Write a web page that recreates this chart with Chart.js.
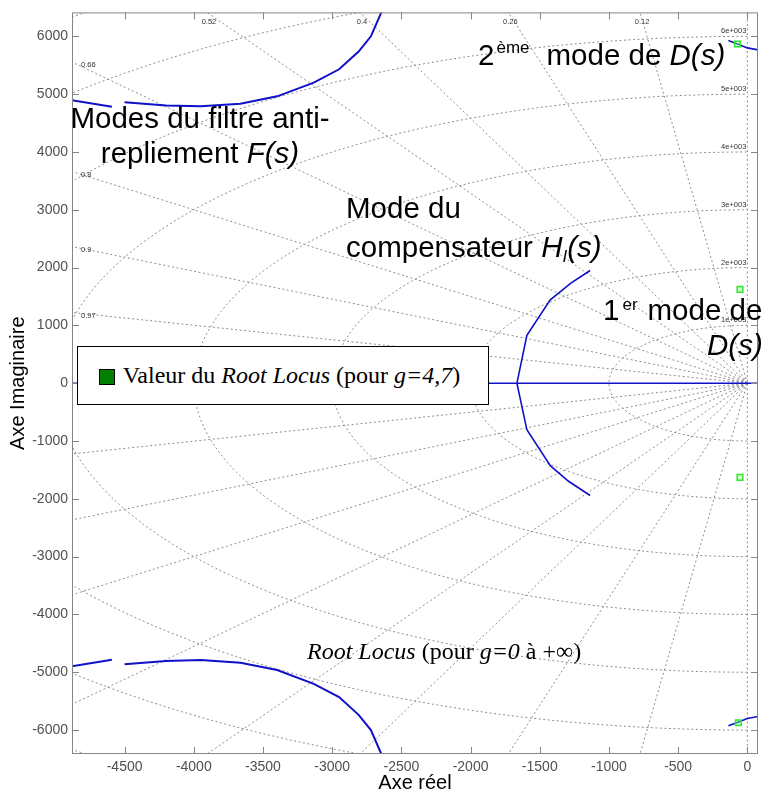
<!DOCTYPE html>
<html>
<head>
<meta charset="utf-8">
<script src="https://cdn.jsdelivr.net/npm/chart.js@4.4.0/dist/chart.umd.min.js"></script>
<style>
html, body { margin: 0; padding: 0; background: #fff; overflow: hidden; }
#wrap { position: relative; width: 764px; height: 796px; overflow: hidden; }
#wrap canvas { position: absolute; left: 0; top: 0; }
.note { position: absolute; white-space: nowrap; color: #000; line-height: 1; }
.sans { font-family: "Liberation Sans", Arial, sans-serif; font-size: 29.5px; }
.serif { font-family: "Liberation Serif", "Times New Roman", serif; font-size: 24px; }
.up { font-size: 17px; position: relative; }
.dn { font-size: 17px; position: relative; }
#legend { position: absolute; left: 77px; top: 346px; width: 410px; height: 57px; border: 1px solid #000; background: #fff; }
#swatch { position: absolute; left: 21px; top: 22px; width: 14px; height: 14px; background: #007f00; border: 1.5px solid #000; }
</style>
</head>
<body>
<div id="wrap">
  <canvas id="rlocus" width="764" height="796"></canvas>
  <div id="legend"><div id="swatch"></div></div>
</div>
<script>
// axes
const xRange = [-4880, 77];
const yRange = [-6414, 6414];
const xTicks = [-4500, -4000, -3500, -3000, -2500, -2000, -1500, -1000, -500, 0];
const yTicks = [-6000, -5000, -4000, -3000, -2000, -1000, 0, 1000, 2000, 3000, 4000, 5000, 6000];

// grille sgrid
const dampingRatios = [0.12, 0.26, 0.4, 0.52, 0.66, 0.8, 0.9, 0.97];
const naturalFreqs = [1000, 2000, 3000, 4000, 5000, 6000, 7000, 8000];

// modes du filtre F(s), demi-plan haut (le bas est symetrique)
const filtreX = [-4890, -4592, -4550, -4500, -4200, -3950, -3663, -3398, -3133, -2950, -2809, -2720, -2645, -2560];
const filtreY = [4900, 4783, null, 4860, 4805, 4790, 4835, 4962, 5200, 5430, 5737, 6000, 6414, 6900];

// mode du compensateur H_I(s)
const compX = [-1136, -1275, -1424, -1593, -1665, -1593, -1424, -1292, -1136];
const compY = [1949, 1730, 1443, 830, 0, -806, -1426, -1696, -1942];

// axe reel
const reelX = [-4900, 80];
const reelY = [0, 0];

// 2eme mode de D(s)
const modeDX = [-137, -72, 0, 79];
const modeDY = [5926, 5868, 5800, 5765];

// valeurs pour g=4,7
const gainX = [-53, -53, -72, -65];
const gainY = [1622, -1630, 5868, -5874];

const pts = (xs, ys) => xs.map((v, i) => ({x: v, y: ys[i]}));
const neg = ys => ys.map(v => v === null ? null : -v);

const bleu = '#1010c8';
const datasets = [];
function locus(xs, ys, w) {
  datasets.push({data: pts(xs, ys), showLine: true, borderColor: bleu, borderWidth: w,
    pointRadius: 0, spanGaps: false, order: 1});
}
locus(filtreX, filtreY, 2);
locus(filtreX, neg(filtreY), 2);
locus(compX, compY, 1.6);
locus(reelX, reelY, 1.6);
locus(modeDX, modeDY, 1.6);
locus(modeDX, neg(modeDY), 1.6);

datasets.push({data: pts(gainX, gainY), showLine: false, pointStyle: 'rect', pointRadius: 4,
  borderColor: '#2ee82e', backgroundColor: 'rgba(140,255,140,0.4)', borderWidth: 1.5, order: 0});

// lignes de la grille (pointillees)
function gridLine(points) {
  datasets.push({data: points, showLine: true, borderColor: '#8e8e8e', borderWidth: 1,
    borderDash: [2, 2.5], pointRadius: 0, order: 5});
}
dampingRatios.forEach(z => {
  const R = 14000, s = Math.sqrt(1 - z * z);
  gridLine([{x: 0, y: 0}, {x: -R * z, y: R * s}]);
  gridLine([{x: 0, y: 0}, {x: -R * z, y: -R * s}]);
});
naturalFreqs.forEach(w => {
  const arc = [];
  for (let a = -90; a <= 90; a += 2) {
    const t = a * Math.PI / 180;
    arc.push({x: -w * Math.cos(t), y: w * Math.sin(t)});
  }
  gridLine(arc);
});
gridLine([{x: 0, y: -9000}, {x: 0, y: 9000}]);

const font = '"Liberation Sans", Arial, sans-serif';

const cadre = {
  id: 'cadre',
  afterDatasetsDraw(chart) {
    const {ctx, chartArea: a, scales: {x, y}} = chart;
    ctx.save();
    // etiquettes de la grille
    ctx.font = '7.5px ' + font;
    ctx.fillStyle = '#333';
    ctx.textBaseline = 'middle';
    dampingRatios.forEach(z => {
      const k = Math.sqrt(1 - z * z) / z;
      const xTop = -yRange[1] / k;
      if (xTop >= xRange[0]) {
        ctx.textAlign = 'center';
        ctx.fillText(String(z), x.getPixelForValue(xTop) + 2, a.top + 10);
      } else {
        ctx.textAlign = 'left';
        ctx.fillText(String(z), a.left + 9, y.getPixelForValue(-xRange[0] * k) + 3);
      }
    });
    ctx.textAlign = 'right';
    naturalFreqs.forEach(w => {
      if (w < yRange[1]) ctx.fillText((w / 1000) + 'e+003', x.getPixelForValue(0) - 1, y.getPixelForValue(w) - 5);
    });
    // cadre et graduations interieures
    ctx.strokeStyle = '#858585';
    ctx.lineWidth = 1;
    ctx.strokeRect(a.left + 0.5, a.top + 0.5, a.width - 1, a.height - 1);
    ctx.beginPath();
    xTicks.forEach(v => {
      const px = Math.round(x.getPixelForValue(v)) + 0.5;
      ctx.moveTo(px, a.bottom); ctx.lineTo(px, a.bottom - 7);
      ctx.moveTo(px, a.top); ctx.lineTo(px, a.top + 7);
    });
    yTicks.forEach(v => {
      const py = Math.round(y.getPixelForValue(v)) + 0.5;
      ctx.moveTo(a.left, py); ctx.lineTo(a.left + 7, py);
      ctx.moveTo(a.right, py); ctx.lineTo(a.right - 7, py);
    });
    ctx.stroke();
    ctx.restore();
  }
};

new Chart(document.getElementById('rlocus'), {
  type: 'scatter',
  data: {datasets: datasets},
  options: {
    responsive: false,
    animation: false,
    devicePixelRatio: 1,
    events: [],
    layout: {padding: {top: 9, right: 6, left: 0, bottom: 0}},
    plugins: {legend: {display: false}, tooltip: {enabled: false}},
    scales: {
      x: {
        type: 'linear', min: xRange[0], max: xRange[1],
        afterBuildTicks: s => { s.ticks = xTicks.map(v => ({value: v})); },
        afterFit: s => { s.height = 42; },
        grid: {display: false, drawTicks: false},
        border: {display: false},
        ticks: {callback: v => String(v), color: '#505050', font: {size: 14, family: font}, padding: 5,
          maxRotation: 0, autoSkip: false},
        title: {display: true, text: 'Axe réel', color: '#000', font: {size: 20, family: font},
          padding: {top: 0, bottom: 1}}
      },
      y: {
        type: 'linear', min: yRange[0], max: yRange[1],
        afterBuildTicks: s => { s.ticks = yTicks.map(v => ({value: v})); },
        afterFit: s => { s.width = 72; },
        grid: {display: false, drawTicks: false},
        border: {display: false},
        ticks: {callback: v => String(v), color: '#505050', font: {size: 14, family: font}, padding: 4,
          autoSkip: false},
        title: {display: true, text: 'Axe Imaginaire', color: '#000', font: {size: 20, family: font},
          padding: {top: 6, bottom: 0}}
      }
    }
  },
  plugins: [cadre]
});

// annotations
const wrap = document.getElementById('wrap');
function note(html, cls, left, baseline, centre) {
  const d = document.createElement('div');
  d.className = 'note ' + cls;
  d.innerHTML = html;
  const size = cls === 'sans' ? 29.5 : 24;
  const k = cls === 'sans' ? 0.8465 : 0.8375;
  d.style.left = left + 'px';
  d.style.top = (baseline - k * size) + 'px';
  if (centre) d.style.transform = 'translateX(-50%)';
  wrap.appendChild(d);
  return d;
}
note('Modes du filtre anti-', 'sans', 200, 128, true);
note('repliement <i>F(s)</i>', 'sans', 200, 163, true);
note('2<span class="up" style="top:-12px;margin-left:2px">ème</span><span style="margin-left:17px">mode de <i>D(s)</i></span>', 'sans', 478, 65);
note('Mode du', 'sans', 346, 218);
note('compensateur <i>H<span class="dn" style="top:5px">I</span>(s)</i>', 'sans', 346, 257);
note('1<span class="up" style="top:-10px;margin-left:3px">er</span><span style="margin-left:10px">mode de</span>', 'sans', 603, 320);
note('<i>D(s)</i>', 'sans', 707, 355);
note('<i>Root Locus</i> (pour <i>g=0</i> à +∞)', 'serif', 307, 659);
const leg = note('Valeur du <i>Root Locus</i> (pour <i>g=4,7</i>)', 'serif', 44.7, 36);
document.getElementById('legend').appendChild(leg);
</script>
</body>
</html>
